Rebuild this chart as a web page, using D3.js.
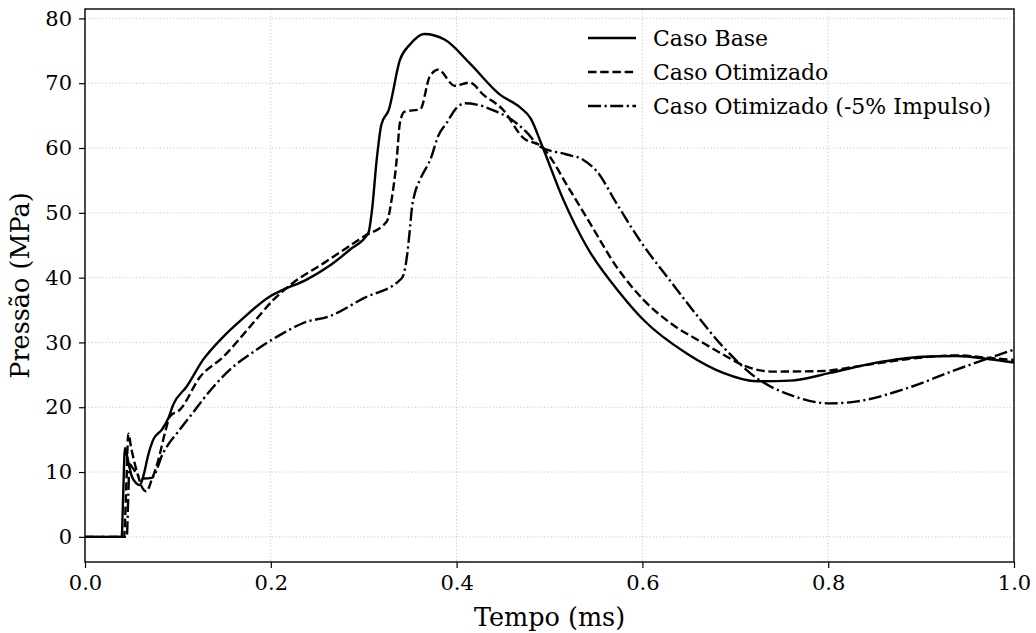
<!DOCTYPE html>
<html>
<head>
<meta charset="utf-8">
<script src="https://cdn.jsdelivr.net/npm/d3@7"></script>
<style>
  body { margin: 0; background: #fff; }
  text { font-family: "DejaVu Serif", serif; fill: #000; }
</style>
</head>
<body>
<div id="chart"></div>
<script>
// [tempo (ms), pressão (MPa)]
const casoBase = [
  [0, 0], [0.0395, 0], [0.041, 6], [0.043, 13.7], [0.046, 12], [0.05, 9.5], [0.055, 8.3],
  [0.059, 8.0], [0.063, 9.5], [0.068, 12.6], [0.0735, 15], [0.0825, 16.5], [0.0897, 18.3],
  [0.095, 20.4], [0.1095, 23.2], [0.127, 27.3], [0.149, 30.9], [0.17, 33.7], [0.199, 37.1],
  [0.213, 38.1], [0.2386, 39.7], [0.262, 41.7], [0.285, 44.3], [0.305, 46.9], [0.309, 50.5],
  [0.314, 58.2], [0.319, 63.6], [0.327, 65.9], [0.339, 73.6], [0.35, 76], [0.365, 77.6],
  [0.3875, 76.7], [0.414, 73.1], [0.447, 68.2], [0.468, 66.3], [0.48, 64.5], [0.4916, 60.5],
  [0.515, 52], [0.54, 44.8], [0.576, 37.6], [0.601, 33.5], [0.6477, 28.3], [0.687, 25.3],
  [0.723, 24], [0.759, 24.1], [0.802, 25.3], [0.849, 26.8], [0.902, 27.8], [0.938, 27.9],
  [0.974, 27.4], [1.0, 26.9]
];
const casoOtimizado = [
  [0, 0], [0.042, 0], [0.0445, 8], [0.0466, 15.9], [0.05, 13.5], [0.056, 10], [0.062, 7.5],
  [0.066, 7.0], [0.0718, 8.8], [0.079, 11.9], [0.086, 16], [0.0915, 18.6], [0.102, 19.6],
  [0.124, 24.7], [0.149, 27.8], [0.178, 32.5], [0.203, 36.6], [0.224, 39.2], [0.2565, 42.2],
  [0.2996, 46.3], [0.325, 48.7], [0.33, 52], [0.3355, 58.2], [0.339, 63.9], [0.344, 65.6],
  [0.361, 66.0], [0.371, 71], [0.38, 72.1], [0.398, 69.6], [0.414, 70.1], [0.429, 68.2],
  [0.45, 65.9], [0.4715, 61.6], [0.4916, 60.2], [0.522, 53.5], [0.5436, 48.4], [0.572, 41.7],
  [0.601, 36.6], [0.63, 33], [0.6656, 29.9], [0.691, 27.8], [0.705, 26.7], [0.741, 25.5],
  [0.795, 25.6], [0.831, 26.3], [0.884, 27.4], [0.938, 28.0], [0.974, 27.6], [1.0, 27.3]
];
const casoImpulso = [
  [0, 0], [0.045, 0], [0.0465, 6], [0.048, 11.2], [0.052, 10.5], [0.057, 9.5], [0.063, 9],
  [0.072, 9.1], [0.084, 12.9], [0.088, 13.9], [0.099, 16], [0.106, 17.3], [0.117, 19.3],
  [0.127, 21.2], [0.156, 25.8], [0.185, 28.9], [0.213, 31.4], [0.235, 33], [0.264, 34.1],
  [0.2996, 36.8], [0.341, 39.9], [0.346, 42.7], [0.35, 47.9], [0.3517, 50.5], [0.355, 53],
  [0.3606, 55.1], [0.373, 58.7], [0.38, 61.8], [0.389, 63.8], [0.4, 66.2], [0.409, 66.9],
  [0.4216, 66.7], [0.443, 65.6], [0.457, 64.6], [0.475, 62.5], [0.49, 60.2], [0.5185, 59],
  [0.536, 58.2], [0.551, 56.4], [0.572, 51.5], [0.597, 45.8], [0.63, 39.5], [0.658, 34.3],
  [0.687, 29.3], [0.723, 24.5], [0.759, 21.9], [0.802, 20.6], [0.831, 20.9], [0.884, 22.9],
  [0.938, 25.8], [1.0, 28.9]
];

const series = [
  {name: "Caso Base", data: casoBase, dash: null},
  {name: "Caso Otimizado", data: casoOtimizado, dash: "8.5,3.7"},
  {name: "Caso Otimizado (-5% Impulso)", data: casoImpulso, dash: "13,3.5,2.2,3.5"}
];
const xTicks = [0, 0.2, 0.4, 0.6, 0.8, 1.0];
const yTicks = [0, 10, 20, 30, 40, 50, 60, 70, 80];

const size = {width: 1036, height: 633};
const plot = {left: 85, right: 1014, top: 9, bottom: 562};

const svg = d3.select("#chart").append("svg")
  .attr("width", size.width)
  .attr("height", size.height);

const x = d3.scaleLinear().domain([0, 1]).range([plot.left, plot.right]);
const y = d3.scaleLinear().domain([-3.88, 81.45]).range([plot.bottom, plot.top]);

// grid
const grid = svg.append("g").attr("stroke", "#c8c8c8").attr("stroke-width", 1)
  .attr("stroke-dasharray", "1.2,2.2");
grid.selectAll("line.gx").data(xTicks).join("line")
  .attr("x1", d => x(d)).attr("x2", d => x(d))
  .attr("y1", plot.top).attr("y2", plot.bottom);
grid.selectAll("line.gy").data(yTicks).join("line")
  .attr("y1", d => y(d)).attr("y2", d => y(d))
  .attr("x1", plot.left).attr("x2", plot.right);

// curves
const line = d3.line()
  .x(d => x(d[0]))
  .y(d => y(d[1]))
  .curve(d3.curveMonotoneX);

svg.append("g").selectAll("path").data(series).join("path")
  .attr("fill", "none")
  .attr("stroke", "#000")
  .attr("stroke-width", 2.4)
  .attr("stroke-dasharray", d => d.dash)
  .attr("d", d => line(d.data));

// axes
const xAxis = svg.append("g")
  .attr("transform", `translate(0,${plot.bottom})`)
  .call(d3.axisBottom(x).tickValues(xTicks).tickFormat(d3.format(".1f")).tickSizeOuter(0).tickSize(6).tickPadding(7));
const yAxis = svg.append("g")
  .attr("transform", `translate(${plot.left},0)`)
  .call(d3.axisLeft(y).tickValues(yTicks).tickSizeOuter(0).tickSize(6).tickPadding(7));

[xAxis, yAxis].forEach(a => {
  a.select(".domain").remove();
  a.selectAll(".tick line").attr("stroke", "#000").attr("stroke-width", 1.2);
  a.selectAll(".tick text").attr("font-size", 21).attr("font-family", "DejaVu Serif");
});

// frame
svg.append("rect")
  .attr("x", plot.left).attr("y", plot.top)
  .attr("width", plot.right - plot.left).attr("height", plot.bottom - plot.top)
  .attr("fill", "none").attr("stroke", "#000").attr("stroke-width", 1.4);

// labels
svg.append("text")
  .attr("x", (plot.left + plot.right) / 2).attr("y", 626)
  .attr("text-anchor", "middle").attr("font-size", 25.5)
  .text("Tempo (ms)");
svg.append("text")
  .attr("transform", `translate(29,${(plot.top + plot.bottom) / 2}) rotate(-90)`)
  .attr("text-anchor", "middle").attr("font-size", 25.5)
  .text("Pressão (MPa)");

// legend
const legend = svg.append("g").attr("transform", "translate(588,38)");
const item = legend.selectAll("g").data(series).join("g")
  .attr("transform", (d, i) => `translate(0,${i * 34})`);
item.append("line")
  .attr("x1", 0).attr("x2", 48)
  .attr("stroke", "#000").attr("stroke-width", 2.4)
  .attr("stroke-dasharray", d => d.dash);
item.append("text")
  .attr("x", 65).attr("dy", "0.35em").attr("font-size", 22)
  .text(d => d.name);
</script>
</body>
</html>
